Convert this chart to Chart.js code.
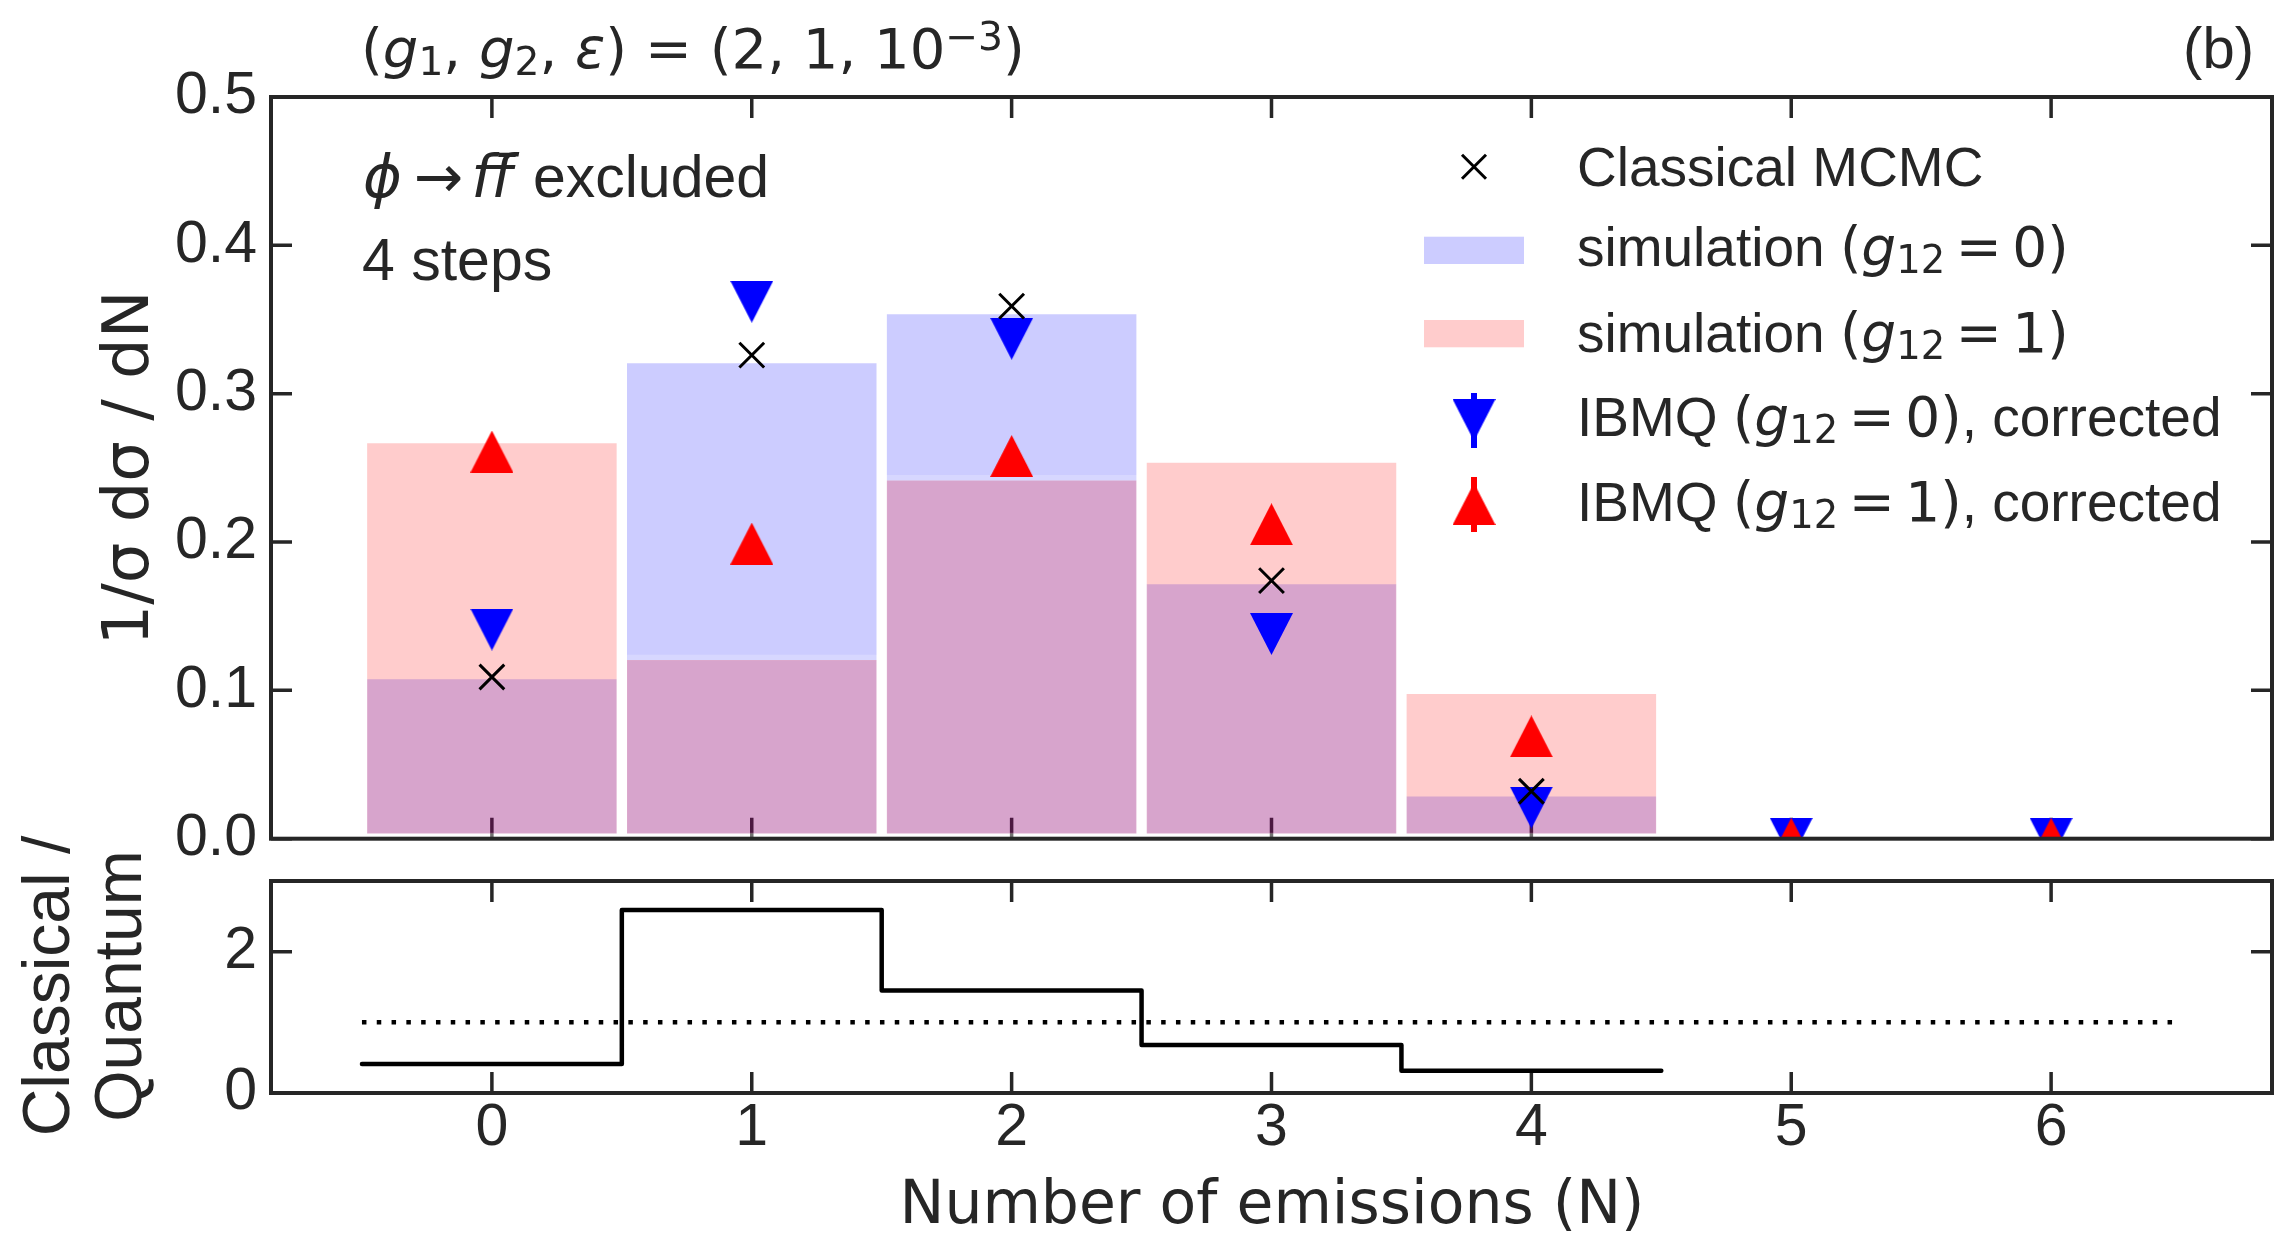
<!DOCTYPE html>
<html>
<head>
<meta charset="utf-8">
<script src="https://cdn.jsdelivr.net/npm/chart.js@4.4.1/dist/chart.umd.min.js"></script>
<style>
html, body { margin: 0; padding: 0; background: #fff; }
body { width: 2285px; height: 1237px; position: relative; overflow: hidden;
       font-family: 'Liberation Sans', Arial, sans-serif; color: #262626; }
canvas { position: absolute; left: 0; }
.t { position: absolute; line-height: 0; white-space: nowrap; }
.m { font-family: 'DejaVu Sans'; }
.m i { font-style: italic; }
sub, sup { font-size: 70%; line-height: 0; vertical-align: baseline; position: relative; }
sub { top: 0.18em; }
sup { top: -0.45em; }
.eq { margin: 0 0.19em; }
.rot { position: absolute; text-align: center; transform: rotate(-90deg); white-space: nowrap; }
</style>
</head>
<body>
<canvas id="main" width="2285" height="870" style="top:0"></canvas>
<canvas id="ratio" width="2285" height="367" style="top:870px"></canvas>

<div class="t m" style="left:361px;top:48.9px;font-size:56px">(<i>g</i><sub>1</sub>, <i>g</i><sub>2</sub>, <i>ε</i>) = (2, 1, 10<sup>−3</sup>)</div>
<div class="t" style="right:31px;top:47.9px;font-size:58px">(b)</div>

<div class="t" style="left:363px;top:176.9px;font-size:59px"><span class="m"><i>ϕ</i><span style="margin:0 8px 0 12px">→</span><i>f</i><i>f&#x304;</i></span><span style="margin-left:19px">excluded</span></div>
<div class="t" style="left:362px;top:259.6px;font-size:59px">4 steps</div>

<div class="t" style="left:1577px;top:166.7px;font-size:55px">Classical MCMC</div>
<div class="t" style="left:1577px;top:247.4px;font-size:55px">simulation <span class="m">(<i>g</i><sub>12</sub><span class="eq">=</span>0)</span></div>
<div class="t" style="left:1577px;top:333.4px;font-size:55px">simulation <span class="m">(<i>g</i><sub>12</sub><span class="eq">=</span>1)</span></div>
<div class="t" style="left:1577px;top:417.1px;font-size:55px">IBMQ <span class="m">(<i>g</i><sub>12</sub><span class="eq">=</span>0)</span>, corrected</div>
<div class="t" style="left:1577px;top:502.1px;font-size:55px">IBMQ <span class="m">(<i>g</i><sub>12</sub><span class="eq">=</span>1)</span>, corrected</div>

<div class="rot" style="left:-174px;top:428px;width:600px;height:80px;line-height:80px;font-family:'DejaVu Sans';font-size:64px">1/σ dσ / dN</div>
<div class="rot" style="left:-168px;top:914px;width:500px;height:144px;line-height:72px;font-size:66px">Classical /<br>Quantum</div>
<div class="t m" style="left:1272px;top:1202.2px;font-size:60px;transform:translateX(-50%)">Number of emissions (N)</div>

<script>
// valores
const emissions = [0, 1, 2, 3, 4, 5, 6];
const simG0 = [0.111, 0.324, 0.357, 0.175, 0.032, 0, 0];
const simG1 = [0.270, 0.124, 0.245, 0.257, 0.101, 0, 0];
const classical = [0.109, 0.326, 0.359, 0.174, 0.032, null, null];
const ibmqG0 = [0.141, 0.362, 0.337, 0.138, 0.021, 0, 0];
const ibmqG1 = [0.261, 0.199, 0.258, 0.212, 0.069, 0, 0];

// painel de razão Classical / Quantum
const ratioBins = [0, 1, 2, 3, 4];
const ratio = [0.41, 2.59, 1.45, 0.68, 0.316];

// ticks
const xTicks = [0, 1, 2, 3, 4, 5, 6];
const xTickLabels = ['0', '1', '2', '3', '4', '5', '6'];
const yTicksTop = [0, 0.1, 0.2, 0.3, 0.4, 0.5];
const yTickLabelsTop = ['0.0', '0.1', '0.2', '0.3', '0.4', '0.5'];
const yTicksRatio = [0, 2];
const yTickLabelsRatio = ['0', '2'];

const INK = '#262626';

// marcadores triangulares (estilo matplotlib: largura = altura)
function triangle(color, down) {
    const c = document.createElement('canvas');
    c.width = 43; c.height = 42;
    const g = c.getContext('2d');
    g.fillStyle = color;
    g.beginPath();
    if (down) { g.moveTo(0, 0); g.lineTo(43, 0); g.lineTo(21.5, 42); }
    else { g.moveTo(21.5, 0); g.lineTo(43, 42); g.lineTo(0, 42); }
    g.closePath();
    g.fill();
    return c;
}
const triDown = triangle('#0000ff', true);
const triUp = triangle('#ff0000', false);

// tira o espaço extra que o Chart.js reserva para os rótulos nas pontas
function noLabelPadding(s) {
    s.paddingTop = 0; s.paddingBottom = 0; s.paddingLeft = 0; s.paddingRight = 0;
}

// moldura e ticks para dentro, nos quatro lados
const framePlugin = {
    id: 'frame',
    beforeDatasetsDraw(chart, args, opts) {
        const { ctx, chartArea: a, scales } = chart;
        ctx.save();
        ctx.strokeStyle = INK;
        ctx.lineWidth = 3.5;
        ctx.beginPath();
        opts.xTicks.forEach(v => {
            const px = scales.x.getPixelForValue(v);
            ctx.moveTo(px, a.top); ctx.lineTo(px, a.top + 21);
            ctx.moveTo(px, a.bottom); ctx.lineTo(px, a.bottom - 21);
        });
        opts.yTicks.forEach(v => {
            const py = scales.y.getPixelForValue(v);
            ctx.moveTo(a.left, py); ctx.lineTo(a.left + 21, py);
            ctx.moveTo(a.right, py); ctx.lineTo(a.right - 21, py);
        });
        ctx.stroke();
        ctx.restore();
    },
    afterDatasetsDraw(chart) {
        const { ctx, chartArea: a } = chart;
        ctx.save();
        ctx.strokeStyle = INK;
        ctx.lineWidth = 4;
        ctx.strokeRect(a.left, a.top, a.right - a.left, a.bottom - a.top);
        ctx.restore();
    }
};

// símbolos da legenda (o texto fica em HTML)
const legendPlugin = {
    id: 'legendSymbols',
    afterDraw(chart) {
        const ctx = chart.ctx;
        const sx = 1474;
        ctx.save();
        ctx.strokeStyle = '#000';
        ctx.lineWidth = 3;
        ctx.beginPath();
        ctx.moveTo(sx - 12, 166.7 - 12); ctx.lineTo(sx + 12, 166.7 + 12);
        ctx.moveTo(sx + 12, 166.7 - 12); ctx.lineTo(sx - 12, 166.7 + 12);
        ctx.stroke();
        ctx.fillStyle = 'rgba(0,0,255,0.2)';
        ctx.fillRect(1424, 236.7, 100, 27.3);
        ctx.fillStyle = 'rgba(255,0,0,0.2)';
        ctx.fillRect(1424, 320, 100, 27.3);
        ctx.lineWidth = 6;
        ctx.strokeStyle = '#0000ff';
        ctx.beginPath(); ctx.moveTo(sx, 393); ctx.lineTo(sx, 448); ctx.stroke();
        ctx.drawImage(triDown, sx - 21.5, 420 - 21);
        ctx.strokeStyle = '#ff0000';
        ctx.beginPath(); ctx.moveTo(sx, 477); ctx.lineTo(sx, 532); ctx.stroke();
        ctx.drawImage(triUp, sx - 21.5, 504 - 21);
        ctx.restore();
    }
};

const tickFont = { family: 'Liberation Sans', size: 59 };

new Chart(document.getElementById('main'), {
    type: 'bar',
    data: {
        datasets: [
            {
                type: 'line', label: 'Classical MCMC',
                data: emissions.map((n, i) => ({ x: n, y: classical[i] })),
                showLine: false, pointStyle: 'crossRot', pointRadius: 17.5,
                pointBorderWidth: 3, pointBorderColor: '#000', borderColor: '#000',
                order: 0, clip: 0
            },
            {
                type: 'line', label: 'IBMQ (g12 = 1), corrected',
                data: emissions.map((n, i) => ({ x: n, y: ibmqG1[i] })),
                showLine: false, pointStyle: triUp, pointRadius: 21, order: 1, clip: 0
            },
            {
                type: 'line', label: 'IBMQ (g12 = 0), corrected',
                data: emissions.map((n, i) => ({ x: n, y: ibmqG0[i] })),
                showLine: false, pointStyle: triDown, pointRadius: 21, order: 2, clip: 0
            },
            {
                type: 'bar', label: 'simulation (g12 = 1)',
                data: emissions.map((n, i) => ({ x: n, y: simG1[i] })),
                backgroundColor: 'rgba(255,0,0,0.2)', borderColor: 'rgba(255,255,255,0.2)',
                borderWidth: 5.5, borderSkipped: false, grouped: false,
                barPercentage: 1, categoryPercentage: 1, order: 3
            },
            {
                type: 'bar', label: 'simulation (g12 = 0)',
                data: emissions.map((n, i) => ({ x: n, y: simG0[i] })),
                backgroundColor: 'rgba(0,0,255,0.2)', borderColor: 'rgba(255,255,255,0.2)',
                borderWidth: 5.5, borderSkipped: false, grouped: false,
                barPercentage: 1, categoryPercentage: 1, order: 4
            }
        ]
    },
    options: {
        responsive: false, animation: false, devicePixelRatio: 1,
        layout: { autoPadding: false, padding: { top: 97, left: 0, right: 13, bottom: 31.3 } },
        plugins: {
            legend: { display: false }, tooltip: { enabled: false },
            frame: { xTicks: xTicks, yTicks: yTicksTop }
        },
        scales: {
            x: {
                type: 'linear', min: -0.85, max: 6.85, offset: false,
                afterBuildTicks: s => { s.ticks = xTicks.map(v => ({ value: v })); },
                afterFit: s => { s.height = 0; noLabelPadding(s); },
                ticks: { display: false },
                grid: { display: false, drawTicks: false }, border: { display: false }
            },
            y: {
                type: 'linear', min: 0, max: 0.5,
                afterBuildTicks: s => { s.ticks = yTicksTop.map(v => ({ value: v })); },
                afterFit: s => { s.width = 271; noLabelPadding(s); },
                ticks: { padding: 14, color: INK, font: tickFont, autoSkip: false,
                         callback: (v, i) => yTickLabelsTop[i] },
                grid: { display: false, drawTicks: false }, border: { display: false }
            }
        }
    },
    plugins: [framePlugin, legendPlugin]
});

// degraus nas bordas dos bins
const stepPts = ratioBins.map((n, i) => ({ x: n - 0.5, y: ratio[i] }));
stepPts.push({ x: ratioBins[ratioBins.length - 1] + 0.5, y: ratio[ratio.length - 1] });
const unityPts = [
    { x: emissions[0] - 0.5, y: 1 },
    { x: emissions[emissions.length - 1] + 0.5, y: 1 }
];

new Chart(document.getElementById('ratio'), {
    type: 'line',
    data: {
        datasets: [
            {
                label: 'Classical / Quantum', data: stepPts, stepped: 'before',
                borderColor: '#000', borderWidth: 4.5, pointRadius: 0,
                borderJoinStyle: 'round', borderCapStyle: 'round', fill: false
            },
            {
                label: 'unity', data: unityPts,
                borderColor: '#000', borderWidth: 4.5, borderDash: [4.5, 10.3],
                pointRadius: 0, fill: false
            }
        ]
    },
    options: {
        responsive: false, animation: false, devicePixelRatio: 1,
        layout: { autoPadding: false, padding: { top: 11, left: 0, right: 13, bottom: 0 } },
        plugins: {
            legend: { display: false }, tooltip: { enabled: false },
            frame: { xTicks: xTicks, yTicks: yTicksRatio }
        },
        scales: {
            x: {
                type: 'linear', min: -0.85, max: 6.85, offset: false,
                afterBuildTicks: s => { s.ticks = xTicks.map(v => ({ value: v })); },
                afterFit: s => { s.height = 144; noLabelPadding(s); },
                ticks: { padding: 0, color: INK, font: tickFont, autoSkip: false, maxRotation: 0,
                         callback: (v, i) => xTickLabels[i] },
                grid: { display: false, drawTicks: false }, border: { display: false }
            },
            y: {
                type: 'linear', min: 0, max: 3,
                afterBuildTicks: s => { s.ticks = yTicksRatio.map(v => ({ value: v })); },
                afterFit: s => { s.width = 271; noLabelPadding(s); },
                ticks: { padding: 14, color: INK, font: tickFont, autoSkip: false,
                         callback: (v, i) => yTickLabelsRatio[i] },
                grid: { display: false, drawTicks: false }, border: { display: false }
            }
        }
    },
    plugins: [framePlugin]
});
</script>
</body>
</html>
